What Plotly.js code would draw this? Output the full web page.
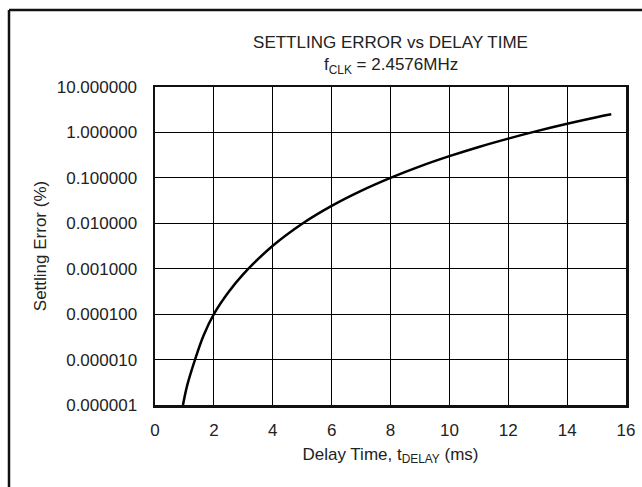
<!DOCTYPE html>
<html>
<head>
<meta charset="utf-8">
<script src="https://cdn.plot.ly/plotly-3.0.1.min.js"></script>
<style>
html,body{margin:0;padding:0;background:#fff;}
#chart{width:642px;height:487px;}
</style>
</head>
<body>
<div id="chart"></div>
<script>
// Data
const delayTime = [0.95, 1.1, 1.36, 1.65, 2.0, 2.5, 3.0, 4.0, 5.0, 6.0, 7.0, 8.0, 9.0, 10.0, 11.0, 12.0, 13.0, 14.0, 15.0, 15.5];
const settlingError = [1e-6, 2.8e-6, 1e-5, 3.4e-5, 1e-4, 3.06e-4, 7.6e-4, 3.2e-3, 9.8e-3, 0.0242, 0.0518, 0.1, 0.179, 0.30, 0.479, 0.731, 1.08, 1.55, 2.16, 2.51];
const yTickVals = [1e-6, 1e-5, 1e-4, 1e-3, 1e-2, 1e-1, 1, 10];
const yTickText = ["0.000001", "0.000010", "0.000100", "0.001000", "0.010000", "0.100000", "1.000000", "10.000000"];
const xTickVals = [0, 2, 4, 6, 8, 10, 12, 14, 16];

const font = "Liberation Sans, Arial, sans-serif";
const txt = "#222";
const fs = 17;

const trace = {
  x: delayTime,
  y: settlingError,
  type: "scatter",
  mode: "lines",
  line: {color: "#000", width: 2.5, shape: "spline", smoothing: 1},
  hoverinfo: "skip"
};

const layout = {
  width: 642, height: 487,
  margin: {l: 155, r: 16, t: 87, b: 82},
  paper_bgcolor: "#fff", plot_bgcolor: "#fff",
  showlegend: false,
  font: {family: font, color: txt, size: fs},
  title: {
    text: "SETTLING ERROR vs DELAY TIME",
    font: {family: font, size: fs, color: txt},
    x: 0.5, xanchor: "center", xref: "paper",
    y: 1 - 42/487, yanchor: "middle", yref: "container"
  },
  annotations: [{
    text: "f<sub>CLK</sub> = 2.4576MHz",
    xref: "paper", yref: "paper",
    x: 0.5, y: (405 - 66) / 318,
    xanchor: "center", yanchor: "middle",
    showarrow: false,
    font: {family: font, size: fs, color: txt}
  }],
  xaxis: {
    range: [0, 16],
    tickvals: xTickVals,
    ticktext: xTickVals.map(String),
    showgrid: true, gridcolor: "#000", gridwidth: 1,
    zeroline: false,
    showline: true, linecolor: "#111", linewidth: 2.5, mirror: true,
    ticks: "outside", ticklen: 8, tickcolor: "rgba(0,0,0,0)",
    tickfont: {family: font, size: fs, color: txt},
    title: {text: "Delay Time, t<sub>DELAY</sub> (ms)", font: {family: font, size: fs, color: txt}, standoff: 9},
    fixedrange: true
  },
  yaxis: {
    type: "log",
    range: [-6, 1],
    tickvals: yTickVals,
    ticktext: yTickText,
    showgrid: true, gridcolor: "#000", gridwidth: 1,
    zeroline: false,
    showline: true, linecolor: "#111", linewidth: 2.5, mirror: true,
    ticks: "outside", ticklen: 12, tickcolor: "rgba(0,0,0,0)",
    tickfont: {family: font, size: fs, color: txt},
    title: {text: "Settling Error (%)", font: {family: font, size: fs, color: txt}, standoff: 6},
    fixedrange: true
  },
  shapes: [
    {type: "line", xref: "paper", yref: "paper",
     x0: (9 - 155) / 471, x1: (2000 - 155) / 471,
     y0: (405 - 10) / 318, y1: (405 - 10) / 318,
     line: {color: "#111", width: 2.5}, layer: "above"},
    {type: "line", xref: "paper", yref: "paper",
     x0: (9 - 155) / 471, x1: (9 - 155) / 471,
     y0: (405 - 10) / 318, y1: (405 - 2000) / 318,
     line: {color: "#111", width: 2.5}, layer: "above"}
  ]
};

Plotly.newPlot("chart", [trace], layout, {displayModeBar: false, staticPlot: true});
</script>
</body>
</html>
